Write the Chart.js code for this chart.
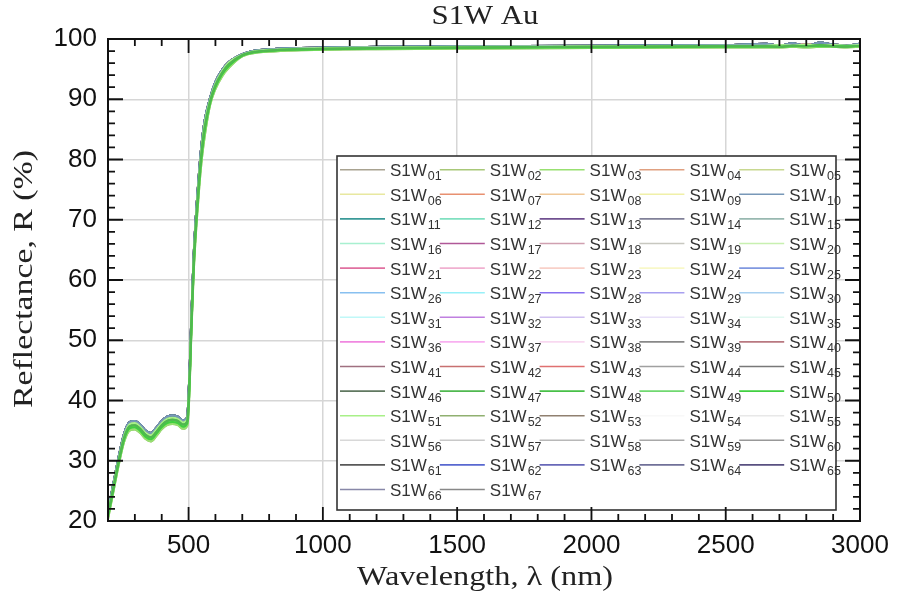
<!DOCTYPE html>
<html><head><meta charset="utf-8">
<script src="https://cdn.jsdelivr.net/npm/chart.js@4/dist/chart.umd.min.js"></script>
<style>html,body{margin:0;padding:0;background:#fff}#wrap{width:899px;height:602px}</style>
</head><body><div id="wrap"><canvas id="c" width="899" height="602"></canvas></div>
<script>
// ---------------- DATA ----------------
const chartTitle = 'S1W Au';
const xTitle = 'Wavelength, \u03bb (nm)';
const yTitle = 'Reflectance, R (%)';

const wavelengths = [200,220,240,260,280,300,320,340,360,380,400,420,440,460,480,495,500,505,510,515,520,530,540,550,560,580,600,625,650,700,750,800,900,1000,1200,1500,2000,2500,2650,2700,2750,2800,2850,2900,2950,3000];

// five read-off profiles across the width of the bundle, top to bottom
const rTop = [21.7,26.2,30.7,34.5,36.4,36.6,36.0,35.0,34.6,35.5,36.6,37.3,37.5,37.3,36.7,37.2,41.0,46.5,53.5,59.5,65.0,72.5,78.5,83.2,86.5,90.2,92.9,94.9,96.2,97.5,98.1,98.3,98.5,98.6,98.7,98.8,98.9,99.0,99.2,98.9,99.3,98.8,99.4,99.1,98.9,99.2];
const rUpper = [21.35,25.85,30.35,34.15,36.05,36.25,35.65,34.65,34.25,35.15,36.25,36.95,37.15,36.95,36.35,36.85,40.25,45.75,52.75,58.75,64.25,71.75,77.75,82.55,86.05,89.9,92.6,94.7,96.1,97.4,98.0,98.2,98.4,98.5,98.6,98.7,98.8,98.9,98.9,99.0,98.9,99.1,98.9,99.0,98.9,99.0];
const rMid = [21.0,25.5,30.0,33.8,35.7,35.9,35.3,34.3,33.9,34.8,35.9,36.6,36.8,36.6,36.0,36.5,39.5,45.0,52.0,58.0,63.5,71.0,77.0,81.8,85.3,89.6,92.3,94.4,95.8,97.3,97.9,98.1,98.3,98.4,98.5,98.6,98.7,98.8,98.8,98.7,98.9,98.8,99.0,98.8,98.7,98.9];
const rLower = [20.65,25.15,29.65,33.45,35.35,35.55,34.95,33.95,33.55,34.45,35.55,36.25,36.45,36.25,35.65,36.15,38.75,44.25,51.25,57.25,62.75,70.25,76.25,81.05,84.55,89.3,92.0,94.1,95.5,97.2,97.8,98.0,98.2,98.3,98.4,98.5,98.6,98.7,98.7,98.7,98.8,98.8,98.8,98.8,98.8,98.8];
const rBottom = [20.3,24.8,29.3,33.1,35.0,35.2,34.6,33.6,33.2,34.1,35.2,35.9,36.1,35.9,35.3,35.8,38.0,43.5,50.5,56.5,62.0,69.5,75.5,80.3,83.8,89.0,91.7,93.8,95.2,97.1,97.7,97.9,98.1,98.2,98.3,98.4,98.5,98.6,98.6,98.6,98.7,98.6,98.7,98.7,98.6,98.7];

const seriesNumbers = ['01','02','03','04','05','06','07','08','09','10','11','12','13','14','15','16','17','18','19','20','21','22','23','24','25','26','27','28','29','30','31','32','33','34','35','36','37','38','39','40','41','42','43','44','45','46','47','48','49','50','51','52','53','54','55','56','57','58','59','60','61','62','63','64','65','66','67'];
// which profile each series follows: 0 rTop, 1 rUpper, 2 rMid, 3 rLower, 4 rBottom
const seriesProfile = [1,2,4,1,3,2,1,2,2,0,0,3,0,0,2,3,1,2,2,3,1,2,2,2,2,2,2,2,2,2,2,2,2,2,2,1,2,2,0,1,0,1,1,1,0,0,2,2,3,3,1,4,0,2,2,2,2,2,1,1,0,1,1,0,0,1,0];
const seriesColors = ['#a8a290','#a8c878','#98e070','#e0a080','#c8d890','#e8e8a0','#e89070','#f0c898','#f0f0a8','#7898b8','#3a9a98','#80e0c0','#705090','#808098','#98b8b0','#a8f0d0','#b05898','#d0a0b0','#c8c8c0','#c8f0b0','#e070a0','#f0b0d0','#f8d0c8','#f8f8c8','#8098e0','#88c0f0','#98f0f8','#8870f0','#a8a0f0','#a8d0f0','#c0f8f8','#c080e0','#d0c0f0','#e8e0f8','#e0f8f0','#f088e0','#f8b0f0','#f8d8f0','#888888','#b87880','#a07080','#c87070','#e07070','#a0a0a0','#787878','#607860','#50b850','#48c048','#70d870','#40d040','#a8f088','#90b070','#908070','#f8f8f8','#e8e8e8','#d8d8d8','#c8c8c8','#b8b8b8','#a8a8a8','#989898','#585858','#5868d0','#6868b8','#707098','#585080','#8888a8','#888888'];
// drawing layers: lower number is drawn later (on top)
const layerFirst = ['47','48','50'];
const layerSecond = ['03','49','52'];
const layerThird = ['02','20','51'];

const xMajorTicks = [500,1000,1500,2000,2500,3000];
const yMajorTicks = [20,30,40,50,60,70,80,90,100];
const xMinorStep = 100, yMinorStep = 2;
const xMin = 200, xMax = 3000, yMin = 20, yMax = 100;

// ---------------- BUILD ----------------
const profiles = [rTop, rUpper, rMid, rLower, rBottom];
function layerOf(n, p) {
  if (layerFirst.includes(n)) return 0;
  if (layerSecond.includes(n)) return 1;
  if (layerThird.includes(n)) return 2;
  return p === 0 ? 3 : 4;
}
const datasets = seriesNumbers.map((n, i) => {
  const p = seriesProfile[i];
  const prof = profiles[p];
  return {
    label: 'S1W' + n,
    data: wavelengths.map((w, k) => ({x: w, y: prof[k]})),
    borderColor: seriesColors[i],
    borderWidth: 2,
    pointRadius: 0,
    fill: false,
    cubicInterpolationMode: 'monotone',
    order: layerOf(n, p)
  };
});

function stretchText(ctx, text, cx, cy, font, targetW, rot) {
  ctx.save();
  ctx.font = font; ctx.textAlign = 'center'; ctx.textBaseline = 'middle';
  ctx.fillStyle = '#222';
  const w = ctx.measureText(text).width;
  ctx.translate(cx, cy);
  if (rot) ctx.rotate(rot);
  ctx.scale(targetW / w, 1);
  ctx.fillText(text, 0, 0);
  ctx.restore();
}

const framePlugin = {
  id: 'frame',
  afterDatasetsDraw(chart) {
    const ctx = chart.ctx, a = chart.chartArea;
    const xs = chart.scales.x, ys = chart.scales.y;
    // legend box
    const lx = 337, ly = 156, lw = 499, lh = 354;
    ctx.save();
    ctx.fillStyle = '#fff';
    ctx.fillRect(lx, ly, lw, lh);
    ctx.strokeStyle = '#333'; ctx.lineWidth = 1.6;
    ctx.strokeRect(lx, ly, lw, lh);
    chart.data.datasets.forEach((ds, i) => {
      const col = i % 5, row = Math.floor(i / 5);
      const x0 = 340 + col * 99.8, y = 169.7 + row * 24.6;
      ctx.strokeStyle = ds.borderColor; ctx.lineWidth = 1.6;
      ctx.beginPath(); ctx.moveTo(x0, y); ctx.lineTo(x0 + 45, y); ctx.stroke();
      ctx.fillStyle = '#333';
      ctx.textAlign = 'left'; ctx.textBaseline = 'alphabetic';
      ctx.font = '17px "Liberation Sans", Arial, sans-serif';
      ctx.fillText('S1W', x0 + 50, y + 6.5);
      const tw = ctx.measureText('S1W').width;
      ctx.font = '12.5px "Liberation Sans", Arial, sans-serif';
      ctx.fillText(ds.label.slice(3), x0 + 51 + tw, y + 10.5);
    });
    // frame
    ctx.strokeStyle = '#111'; ctx.lineWidth = 2;
    ctx.strokeRect(a.left, a.top, a.right - a.left, a.bottom - a.top);
    // ticks
    ctx.lineWidth = 1.8;
    ctx.beginPath();
    for (let v = xMin; v <= xMax; v += xMinorStep) {
      const px = xs.getPixelForValue(v);
      const len = (v % 500 === 0) ? 14 : 7;
      ctx.moveTo(px, a.bottom); ctx.lineTo(px, a.bottom - len);
      ctx.moveTo(px, a.top); ctx.lineTo(px, a.top + len);
    }
    for (let v = yMin; v <= yMax; v += yMinorStep) {
      const py = ys.getPixelForValue(v);
      const len = (v % 10 === 0) ? 15 : 7;
      ctx.moveTo(a.left, py); ctx.lineTo(a.left + len, py);
      ctx.moveTo(a.right, py); ctx.lineTo(a.right - len, py);
    }
    ctx.stroke();
    ctx.restore();
  },
  afterDraw(chart) {
    const ctx = chart.ctx;
    const f = '28px "Liberation Serif", "Times New Roman", serif';
    stretchText(ctx, chartTitle, 485, 17, f, 107, 0);
    stretchText(ctx, xTitle, 485, 578, f, 256, 0);
    stretchText(ctx, yTitle, 25, 279, f, 258, -Math.PI / 2);
  }
};

new Chart(document.getElementById('c'), {
  type: 'line',
  data: { datasets },
  options: {
    responsive: false,
    devicePixelRatio: 1,
    animation: false,
    layout: { padding: { top: 39, right: 39, left: 0, bottom: 0 } },
    plugins: { legend: { display: false }, tooltip: { enabled: false }, title: { display: false } },
    scales: {
      x: {
        type: 'linear', min: xMin, max: xMax,
        afterBuildTicks: s => { s.ticks = xMajorTicks.map(v => ({ value: v })); },
        afterFit: s => { s.height = 81; },
        grid: { color: '#d6d6d6', lineWidth: 1.5, drawTicks: false },
        border: { display: false },
        ticks: { font: { family: '"Liberation Sans", Arial, sans-serif', size: 26 }, color: '#111', padding: 9, maxRotation: 0, autoSkip: false, callback: v => String(v) }
      },
      y: {
        type: 'linear', min: yMin, max: yMax,
        afterBuildTicks: s => { s.ticks = yMajorTicks.map(v => ({ value: v })); },
        afterFit: s => { s.width = 108; },
        grid: { color: '#d6d6d6', lineWidth: 1.5, drawTicks: false },
        border: { display: false },
        ticks: { font: { family: '"Liberation Sans", Arial, sans-serif', size: 26 }, color: '#111', padding: 11, callback: v => String(v) }
      }
    }
  },
  plugins: [framePlugin]
});
</script>
</body></html>
